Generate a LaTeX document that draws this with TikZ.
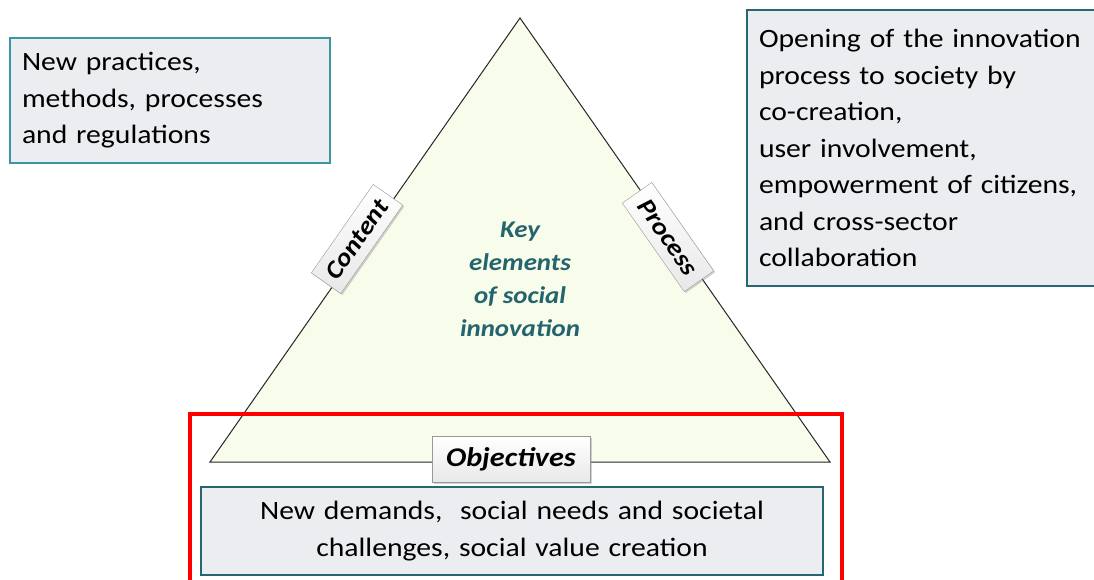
\documentclass[tikz,border=0pt]{standalone}
\usepackage{fontspec}
\setmainfont{Carlito}[FakeStretch=1.12]
\usetikzlibrary{positioning,shadows}
\definecolor{tealdark}{RGB}{38,102,112}
\definecolor{teallight}{RGB}{58,150,160}
\definecolor{boxgray}{RGB}{236,237,240}
\definecolor{trifill}{RGB}{248,252,234}
\definecolor{keytext}{RGB}{36,100,110}
\tikzstyle{infobox} = [draw=tealdark, line width=2pt, fill=boxgray, inner xsep=12pt, inner ysep=0pt, font=\fontsize{26.5}{36.5}\selectfont]
\tikzstyle{tag} = [draw=gray!80, top color=white, bottom color=gray!18, drop shadow={shadow xshift=1.5pt, shadow yshift=-1.5pt, opacity=0.35}, font=\bfseries\itshape, inner sep=0pt]

\begin{document}
\begin{tikzpicture}[x=1pt, y=-1pt]
                    \useasboundingbox (0,0) rectangle (1094,580);
                    % triangle
                    \coordinate (apex) at (520,18);
                    \coordinate (bl) at (210,462);
                    \coordinate (br) at (830,462);
                    \draw[fill=trifill, draw=black!85, line width=1pt] (apex) -- (br) -- (bl) -- cycle;
                    \node[align=center, text=keytext, font=\fontsize{24}{33}\selectfont\bfseries\itshape] (key) at (520,279) {Key\\elements\\of social\\innovation};

                    % side labels
                    \node[tag, rotate=55, minimum width=108pt, minimum height=36pt, font=\fontsize{25}{26}\selectfont\bfseries\itshape] (content) at (357,239) {Content};
                    \node[tag, rotate=-55, minimum width=108pt, minimum height=36pt, font=\fontsize{25}{26}\selectfont\bfseries\itshape] (process) at (668,237) {Process};

                    % boxes
                    \node[infobox, draw=teallight, text width=296pt, minimum height=125pt, align=left] (contentbox) at (170,100.5) {New practices,\\methods, processes\\and regulations};
                    \node[infobox, text width=329pt, minimum height=276pt, align=left] (processbox) at (923.5,148) {Opening of the innovation\\process to society by\\co-creation,\\user involvement,\\empowerment of citizens,\\and cross-sector\\collaboration};

                    \draw[red, line width=4pt] (190,590) -- (190,414) -- (842,414) -- (842,590);
                    \node[infobox, text width=598pt, minimum height=88pt, align=center] (goalbox) at (512,531) {New demands,\ \ social needs and societal\\challenges, social value creation};
                    \node[tag, minimum width=158pt, minimum height=46pt, font=\fontsize{27}{28}\selectfont\bfseries\itshape] (objectives) at (511,459) {Objectives};
                \end{tikzpicture}
\end{document}
